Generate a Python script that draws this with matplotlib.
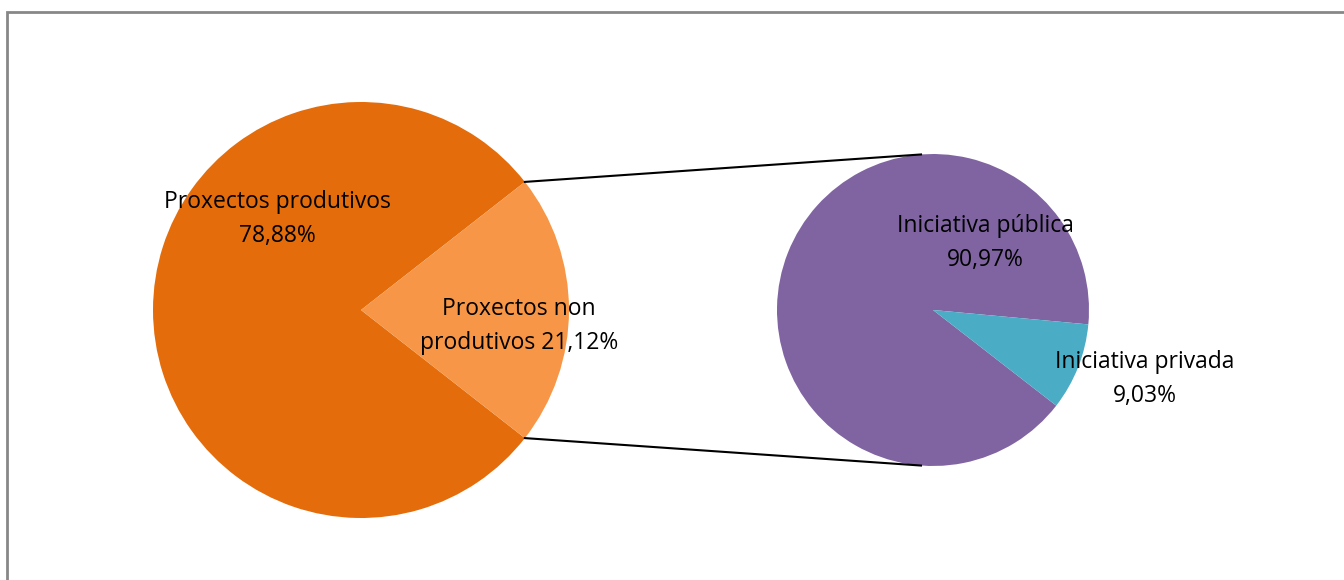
import numpy as np
import matplotlib
matplotlib.use("Agg")
import matplotlib.pyplot as plt
from matplotlib.patches import Rectangle

# main pie
main_labels = ["Proxectos produtivos", "Proxectos non\nprodutivos"]
main_values = [78.88, 21.12]
main_colors = ["#E46C0A", "#F79646"]

# secondary pie (split of "non produtivos")
sub_labels = ["Iniciativa pública", "Iniciativa privada"]
sub_values = [90.97, 9.03]
sub_colors = ["#8064A2", "#4BACC6"]

W, H = 1344, 580
plt.rcParams["font.family"] = ["Open Sans", "DejaVu Sans"]

fig = plt.figure(figsize=(W / 100, H / 100), dpi=100)
ax = fig.add_axes([0, 0, 1, 1])

# chart frame (only top/left visible in the crop)
ax.add_patch(Rectangle((7, -20), W + 40, H - 12 + 20, fill=False,
                       edgecolor="#878787", lw=2.0))

c1, r1 = (361, H - 310), 208
c2, r2 = (933, H - 310), 156

# small slice centred on the right side of the main pie
half = main_values[1] * 3.6 / 2
ax.pie(main_values, colors=main_colors, startangle=half, center=c1,
       radius=r1, frame=True, wedgeprops=dict(linewidth=0))
ax.pie(sub_values, colors=sub_colors, startangle=-5.3, center=c2,
       radius=r2, frame=True, wedgeprops=dict(linewidth=0))
ax.set_xlim(0, W)
ax.set_ylim(0, H)
ax.set_aspect("equal")
ax.axis("off")

# connector lines
a = np.deg2rad(half)
p_top = (c1[0] + r1 * np.cos(a), c1[1] + r1 * np.sin(a))
p_bot = (c1[0] + r1 * np.cos(a), c1[1] - r1 * np.sin(a))
dx = -12
q_top = (c2[0] + dx, c2[1] + np.sqrt(r2**2 - dx**2))
q_bot = (c2[0] + dx, c2[1] - np.sqrt(r2**2 - dx**2))
ax.plot([p_top[0], q_top[0]], [p_top[1], q_top[1]], color="black", lw=1.5)
ax.plot([p_bot[0], q_bot[0]], [p_bot[1], q_bot[1]], color="black", lw=1.5)

def pct(v):
    return f"{v:.2f}".replace(".", ",") + "%"

fs = 16.5
txt = dict(ha="center", va="center", fontsize=fs, color="black",
           multialignment="center", linespacing=1.6)
ax.text(277, H - 219, f"{main_labels[0]}\n{pct(main_values[0])}", **txt)
ax.text(519, H - 326, f"{main_labels[1]} {pct(main_values[1])}", **txt)
ax.text(985, H - 243, f"{sub_labels[0]}\n{pct(sub_values[0])}", **txt)
ax.text(1145, H - 379, f"{sub_labels[1]}\n{pct(sub_values[1])}", **txt)

fig.savefig("out.png", dpi=100)
